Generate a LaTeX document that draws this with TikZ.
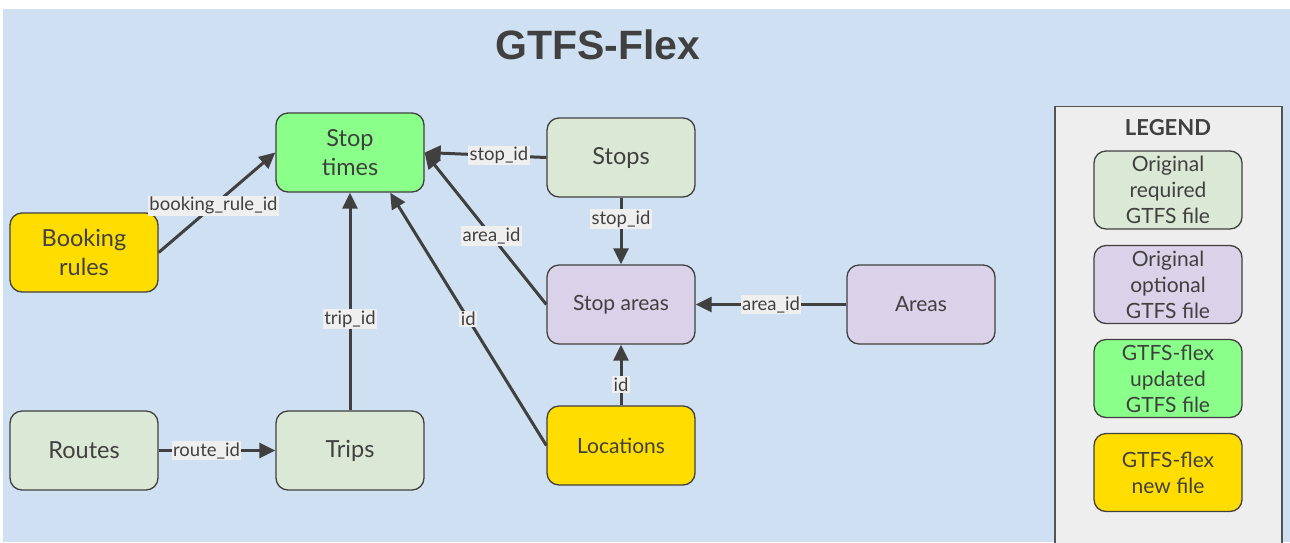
\documentclass[tikz,border=0pt]{standalone}
\usepackage{fontspec}
\setmainfont{Lato}
\newfontfamily\titlefont{Liberation Sans}
\usetikzlibrary{arrows.meta}
\definecolor{bgblue}{RGB}{207,224,242}
\definecolor{brightgreen}{RGB}{138,255,138}
\definecolor{lightgreen}{RGB}{218,232,213}
\definecolor{lavender}{RGB}{218,210,232}
\definecolor{gold}{RGB}{255,221,0}
\definecolor{ink}{RGB}{64,64,64}
\definecolor{labelbg}{RGB}{239,239,239}
\definecolor{legendbg}{RGB}{238,238,238}
\tikzset{
  filebox/.style={draw=ink, line width=1.3pt, rounded corners=12pt, minimum width=148pt, minimum height=79pt, text=ink, align=center, font=\fontsize{23.5}{29}\selectfont, inner sep=2pt},
  smallfile/.style={filebox, font=\fontsize{21}{25}\selectfont},
  legendbox/.style={filebox, minimum width=148pt, minimum height=78pt, font=\fontsize{21}{26}\selectfont},
  link/.style={draw=ink, line width=3pt, -{Triangle[length=16pt,width=15pt]}},
  lbl/.style={fill=labelbg, text=ink, inner sep=1.5pt, font=\fontsize{18.5}{21}\selectfont}
}
\begin{document}
\begin{tikzpicture}[x=1pt,y=-1pt]
\useasboundingbox (0,0) rectangle (1290,542);
\fill[bgblue] (3,9) rectangle (1290,542);
\node[text=ink, font=\titlefont\fontsize{41}{46}\selectfont\bfseries] (title) at (598,45) {GTFS-Flex};

\node[filebox, fill=brightgreen] (st) at (350,152.5) {Stop\\times};
\node[filebox, fill=gold] (br) at (84,252.5) {Booking\\rules};
\node[filebox, fill=lightgreen] (stops) at (621,157.5) {Stops};
\node[smallfile, fill=lavender] (sa) at (621,304.5) {Stop areas};
\node[smallfile, fill=lavender] (areas) at (921,304.5) {Areas};
\node[smallfile, fill=gold] (loc) at (621,445.5) {Locations};
\node[filebox, fill=lightgreen] (routes) at (84,450.5) {Routes};
\node[filebox, fill=lightgreen] (trips) at (350,450.5) {Trips};

\draw[link] (br.east) -- node[lbl, pos=0.47] {booking\_rule\_id} (st.west);
\draw[link] (stops.west) -- node[lbl, pos=0.39] {stop\_id} (st.east);
\draw[link] (sa.west) -- node[lbl, pos=0.45] {area\_id} (st.east);
\draw[link] (loc.west) -- node[lbl, pos=0.5] {id} (st.-45);
\draw[link] (trips.north) -- node[lbl, pos=0.42] {trip\_id} (st.south);
\draw[link] (routes.east) -- node[lbl, pos=0.41] {route\_id} (trips.west);
\draw[link] (stops.south) -- node[lbl, pos=0.32] {stop\_id} (sa.north);
\draw[link] (areas.west) -- node[lbl, pos=0.5] {area\_id} (sa.east);
\draw[link] (loc.north) -- node[lbl, pos=0.34] {id} (sa.south);

\node[draw=ink!90, line width=1.2pt, fill=legendbg, minimum width=227pt, minimum height=437pt] (legend) at (1168.5,325) {};
\node[text=ink, font=\fontsize{22}{26}\selectfont\bfseries] (legendtitle) at (1168,128) {LEGEND};
\node[legendbox, fill=lightgreen] (lg1) at (1168,190) {Original\\required\\GTFS file};
\node[legendbox, fill=lavender] (lg2) at (1168,284.5) {Original\\optional\\GTFS file};
\node[legendbox, fill=brightgreen] (lg3) at (1168,378.5) {GTFS-flex\\updated\\GTFS file};
\node[legendbox, fill=gold] (lg4) at (1168,472.5) {GTFS-flex\\new file};
\end{tikzpicture}
\end{document}
